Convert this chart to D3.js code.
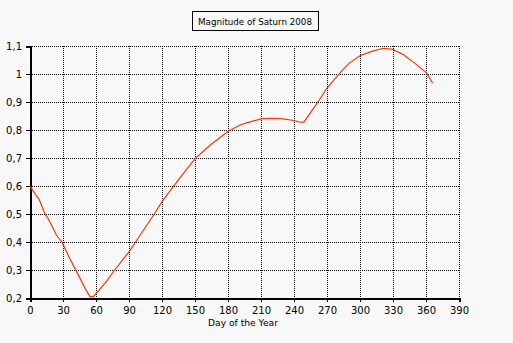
<!DOCTYPE html>
<html>
<head>
<meta charset="utf-8">
<script src="https://cdn.jsdelivr.net/npm/d3@7"></script>
<style>
  html, body { margin: 0; padding: 0; background: #f8f8f8; }
  svg { display: block; }
  text { font-family: "DejaVu Sans", sans-serif; fill: #000; }
</style>
</head>
<body>
<script>
// Apparent magnitude of Saturn through 2008, sampled by day of year
const days = [0, 6, 8, 13.6, 16.4, 24, 29, 36, 45.5, 50, 54.5, 57.5, 63, 70, 77, 90, 96, 113, 120, 128, 140, 150, 158, 165, 180, 191, 200, 210, 220, 230, 240, 244, 249, 255, 263, 270, 284, 290, 300, 310, 321, 330, 340, 350, 360, 366];
const magnitudes = [0.600, 0.564, 0.555, 0.500, 0.485, 0.425, 0.400, 0.342, 0.270, 0.235, 0.205, 0.205, 0.229, 0.262, 0.300, 0.365, 0.400, 0.500, 0.544, 0.586, 0.648, 0.697, 0.726, 0.750, 0.795, 0.818, 0.829, 0.840, 0.842, 0.840, 0.834, 0.829, 0.828, 0.862, 0.907, 0.950, 1.014, 1.038, 1.065, 1.080, 1.092, 1.088, 1.068, 1.038, 1.006, 0.968];
const xTicks = [0, 30, 60, 90, 120, 150, 180, 210, 240, 270, 300, 330, 360, 390];
const yTicks = [0.2, 0.3, 0.4, 0.5, 0.6, 0.7, 0.8, 0.9, 1.0, 1.1];
const chartTitle = "Magnitude of Saturn 2008";
const xTitle = "Day of the Year";

const W = 513, H = 343;
const svg = d3.select("body").append("svg").attr("width", W).attr("height", H);

const x = d3.scaleLinear().domain([0, 390]).range([30, 459]);
const y = d3.scaleLinear().domain([0.2, 1.1]).range([298, 46]);

const fmt = v => d3.format(".1~f")(v).replace(".", ",");

// shrink a label's font until it spans the given width
function fitText(sel, width, base) {
  sel.attr("font-size", base);
  const len = sel.node().getComputedTextLength();
  if (len > width) sel.attr("font-size", base * width / len);
}

// dotted grid
const grid = svg.append("g").attr("stroke", "#000").attr("stroke-width", 1).attr("stroke-dasharray", "1,1").attr("shape-rendering", "crispEdges");
grid.selectAll("line.v").data(xTicks.slice(1)).join("line")
  .attr("x1", d => Math.round(x(d)) + 0.5).attr("x2", d => Math.round(x(d)) + 0.5)
  .attr("y1", y(1.1)).attr("y2", y(0.2));
grid.selectAll("line.h").data(yTicks.slice(1)).join("line")
  .attr("x1", x(0)).attr("x2", x(390))
  .attr("y1", d => Math.round(y(d)) + 0.5).attr("y2", d => Math.round(y(d)) + 0.5);

// axes
const xAxis = svg.append("g").attr("transform", `translate(0,${y(0.2)})`)
  .call(d3.axisBottom(x).tickValues(xTicks).tickSize(4).tickPadding(5).tickFormat(d3.format("d")));
const yAxis = svg.append("g").attr("transform", `translate(${x(0)},0)`)
  .call(d3.axisLeft(y).tickValues(yTicks).tickSize(4).tickPadding(4).tickFormat(fmt));
[xAxis, yAxis].forEach(a => {
  a.select(".domain").attr("stroke", "#000").attr("stroke-width", 2).attr("shape-rendering", "crispEdges");
  a.selectAll(".tick line").attr("stroke", "#000").attr("stroke-width", 1).attr("shape-rendering", "crispEdges");
  a.selectAll("text").attr("font-family", "DejaVu Sans, sans-serif").attr("font-size", 10).attr("fill", "#000");
});

// curve
const line = d3.line().x((d, i) => x(days[i])).y(d => y(d)).curve(d3.curveLinear);
svg.append("path").datum(magnitudes).attr("d", line)
  .attr("fill", "none").attr("stroke", "#ff3300").attr("stroke-width", 1.2);

// x axis title
const xt = svg.append("text").attr("x", 243).attr("y", 326)
  .attr("text-anchor", "middle").text(xTitle);
fitText(xt, 70, 10);

// boxed chart title
const tg = svg.append("g");
tg.append("rect").attr("x", 192.5).attr("y", 11.5).attr("width", 126).attr("height", 19)
  .attr("fill", "none").attr("stroke", "#000").attr("stroke-width", 1);
const tt = tg.append("text").attr("x", 255).attr("y", 25).attr("text-anchor", "middle").text(chartTitle);
fitText(tt, 114, 10);
</script>
</body>
</html>
